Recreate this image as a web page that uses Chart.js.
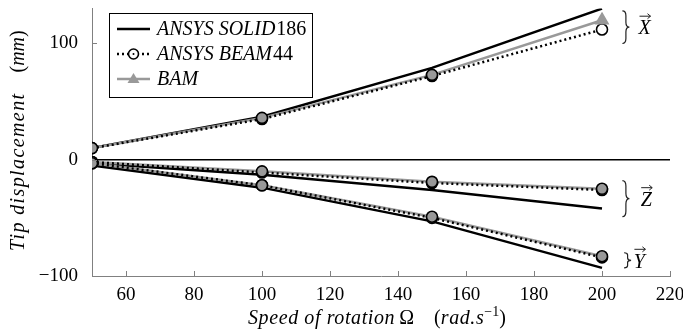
<!DOCTYPE html>
<html>
<head>
<meta charset="utf-8">
<script src="https://cdn.jsdelivr.net/npm/chart.js@4.4.1/dist/chart.umd.min.js"></script>
<style>
  body { margin: 0; background: #fff; }
  canvas { display: block; }
</style>
</head>
<body>
<canvas id="graph" width="683" height="335"></canvas>
<script>
// speeds of rotation (rad/s)
const speeds = [50, 100, 150, 200];

// tip displacement (mm)
const solidX = [10, 37, 79, 130];
const solidY = [-5, -24, -53, -93];
const solidZ = [-3, -13, -26, -42];

const beamX = [10, 35, 72, 112];
const beamY = [-3, -22, -50, -84];
const beamZ = [-2, -11, -20, -26];

const bamX = [10, 36, 73, 120];
const bamY = [-3, -22, -49, -83];
const bamZ = [-2, -10, -19, -25];

const xTicks = [60, 80, 100, 120, 140, 160, 180, 200, 220];
const yTicks = [-100, 0, 100];

const FONT = "'Liberation Serif', 'DejaVu Serif', serif";
const GREY = "#999999";

function pts(vals) {
    return vals.map((v, i) => ({ x: speeds[i], y: v }));
}

var datasets = [];

// zero line
datasets.push({ data: [{ x: 50, y: 0 }, { x: 220, y: 0 }], borderColor: "#000", borderWidth: 1.5, pointRadius: 0, order: 10 });

// solid lines
[solidX, solidY, solidZ].forEach(s => {
    datasets.push({ label: "solid", data: pts(s), borderColor: "#000", borderWidth: 2.5, pointRadius: 0, order: 9 });
});

// BAM line under the dotted BEAM line
[bamX, bamY, bamZ].forEach(s => {
    datasets.push({ label: "bamline", data: pts(s), borderColor: GREY, borderWidth: 2.5, pointRadius: 0, order: 8 });
});

// BEAM44 dotted with white circles
[beamX, beamY, beamZ].forEach(s => {
    datasets.push({
        label: "beam", data: pts(s), borderColor: "#000", borderWidth: 2.5, borderDash: [2, 3],
        pointRadius: 5.5, pointBackgroundColor: "#fff", pointBorderColor: "#000", pointBorderWidth: 1.6, order: 7
    });
});

// BAM markers on top
[bamX, bamY, bamZ].forEach((s, k) => {
    datasets.push({
        label: "bampts", data: pts(s), showLine: false,
        pointStyle: s.map((v, i) => (k == 0 && i == 3) ? "triangle" : "circle"),
        pointRadius: s.map((v, i) => (k == 0 && i == 3) ? 7 : 5.5),
        pointBackgroundColor: GREY,
        pointBorderColor: s.map((v, i) => (k == 0 && i == 3) ? GREY : "#000"),
        pointBorderWidth: 1.6, order: 6
    });
});

// braces + vector labels on the right
const notes = [
    { name: "X", x: 206, y1: 128, y2: 100, lx: 212.5 },
    { name: "Z", x: 206, y1: -18, y2: -49, lx: 213 },
    { name: "Y", x: 206.5, y1: -80, y2: -93, lx: 211 }
];

function brace(ctx, x, y1, y2, w) {
    var h = y2 - y1, m = (y1 + y2) / 2, c = Math.min(6, h * 0.15);
    ctx.beginPath();
    ctx.moveTo(x, y1);
    ctx.quadraticCurveTo(x + w / 2, y1, x + w / 2, y1 + c);
    ctx.lineTo(x + w / 2, m - c);
    ctx.quadraticCurveTo(x + w / 2, m, x + w, m);
    ctx.quadraticCurveTo(x + w / 2, m, x + w / 2, m + c);
    ctx.lineTo(x + w / 2, y2 - c);
    ctx.quadraticCurveTo(x + w / 2, y2, x, y2);
    ctx.stroke();
}

// draws pieces of text one after another (italic / upright / superscript)
function runs(ctx, parts, x, y) {
    parts.forEach(p => {
        ctx.font = p.f;
        ctx.letterSpacing = p.ls || "0px";
        ctx.fillText(p.t, x, y + (p.dy || 0));
        x += ctx.measureText(p.t).width + (p.gap || 0);
    });
    ctx.letterSpacing = "0px";
}

const IT = "italic 20px " + FONT;
const UP = "20px " + FONT;

const extras = {
    id: "extras",
    afterDraw(chart) {
        var ctx = chart.ctx, xs = chart.scales.x, ys = chart.scales.y;
        ctx.save();

        // inward ticks
        ctx.strokeStyle = "#808080";
        ctx.lineWidth = 1;
        xTicks.forEach(t => {
            var px = Math.round(xs.getPixelForValue(t)) + 0.5;
            ctx.beginPath(); ctx.moveTo(px, ys.bottom); ctx.lineTo(px, ys.bottom - 5); ctx.stroke();
        });
        yTicks.forEach(t => {
            var py = Math.round(ys.getPixelForValue(t)) + 0.5;
            ctx.beginPath(); ctx.moveTo(xs.left, py); ctx.lineTo(xs.left + 5, py); ctx.stroke();
        });

        // axis titles
        ctx.fillStyle = "#000";
        ctx.textAlign = "left";
        ctx.textBaseline = "alphabetic";
        runs(ctx, [
            { t: "Speed of rotation", f: IT, ls: "0.6px", gap: 4 },
            { t: "Ω", f: UP, gap: 20 },
            { t: "(", f: UP },
            { t: "rad.s", f: IT, ls: "0.6px" },
            { t: "−1", f: "14px " + FONT, dy: -8 },
            { t: ")", f: UP }
        ], 248, 324);

        ctx.save();
        ctx.translate(24, 251);
        ctx.rotate(-Math.PI / 2);
        runs(ctx, [
            { t: "Tip displacement", f: IT, ls: "1.4px", gap: 20 },
            { t: "(", f: UP },
            { t: "mm", f: IT },
            { t: ")", f: UP }
        ], 0, 0);
        ctx.restore();

        // braces
        ctx.strokeStyle = "#222";
        ctx.lineWidth = 1.2;
        ctx.fillStyle = "#000";
        notes.forEach(n => {
            var bx = xs.getPixelForValue(n.x);
            var a = ys.getPixelForValue(n.y1), b = ys.getPixelForValue(n.y2);
            brace(ctx, bx, a, b, 7);
            var lx = xs.getPixelForValue(n.lx), ly = (a + b) / 2;
            ctx.font = IT;
            ctx.textAlign = "center";
            ctx.textBaseline = "middle";
            ctx.fillText(n.name, lx, ly + 2);
            // arrow above the letter
            var ay = ly - 11;
            ctx.lineWidth = 1;
            ctx.beginPath(); ctx.moveTo(lx - 5, ay); ctx.lineTo(lx + 6, ay); ctx.stroke();
            ctx.beginPath(); ctx.moveTo(lx + 6, ay); ctx.lineTo(lx + 3, ay - 2.5);
            ctx.moveTo(lx + 6, ay); ctx.lineTo(lx + 3, ay + 2.5); ctx.stroke();
            ctx.lineWidth = 1.2;
        });

        // legend
        var bx = 109, by = 13, bw = 203, bh = 84;
        ctx.fillStyle = "#fff";
        ctx.fillRect(bx, by, bw, bh);
        ctx.strokeStyle = "#000";
        ctx.lineWidth = 1;
        ctx.strokeRect(bx + 0.5, by + 0.5, bw, bh);
        var rows = [
            { txt: "ANSYS SOLID", num: "186", kind: "solid" },
            { txt: "ANSYS BEAM", num: "44", kind: "beam" },
            { txt: "BAM", num: "", kind: "bam" }
        ];
        rows.forEach((r, i) => {
            var ry = by + 16 + i * 25;
            var x0 = bx + 8, x1 = bx + 41;
            ctx.setLineDash(r.kind == "beam" ? [2, 3] : []);
            ctx.strokeStyle = r.kind == "bam" ? GREY : "#000";
            ctx.lineWidth = 2.5;
            ctx.beginPath(); ctx.moveTo(x0, ry); ctx.lineTo(x1, ry); ctx.stroke();
            ctx.setLineDash([]);
            var mx = (x0 + x1) / 2;
            if (r.kind == "beam") {
                ctx.fillStyle = "#fff"; ctx.strokeStyle = "#000"; ctx.lineWidth = 1.6;
                ctx.beginPath(); ctx.arc(mx, ry, 5, 0, Math.PI * 2); ctx.fill(); ctx.stroke();
                ctx.fillStyle = "#000";
                ctx.beginPath(); ctx.arc(mx, ry, 1, 0, Math.PI * 2); ctx.fill();
            }
            if (r.kind == "bam") {
                ctx.fillStyle = GREY;
                ctx.beginPath(); ctx.moveTo(mx, ry - 6); ctx.lineTo(mx + 6, ry + 4); ctx.lineTo(mx - 6, ry + 4); ctx.closePath(); ctx.fill();
            }
            ctx.fillStyle = "#000";
            ctx.textAlign = "left";
            ctx.textBaseline = "middle";
            runs(ctx, [{ t: r.txt, f: IT, gap: 1 }, { t: r.num, f: UP }], bx + 48, ry + 1);
        });

        ctx.restore();
    }
};

new Chart("graph", {
    type: "line",
    data: { datasets: datasets },
    options: {
        responsive: false,
        animation: false,
        layout: { padding: { top: 2, right: 13, left: 0, bottom: 0 } },
        plugins: { legend: { display: false }, tooltip: { enabled: false } },
        scales: {
            x: {
                type: "linear", min: 50, max: 220,
                afterBuildTicks: s => { s.ticks = xTicks.map(v => ({ value: v })); },
                afterFit: s => { s.height = 59; s.paddingLeft = 0; s.paddingRight = 0; },
                grid: { display: false },
                border: { color: "#808080", width: 1 },
                ticks: { color: "#000", font: { family: FONT, size: 19 }, padding: 0, maxRotation: 0 }
            },
            y: {
                type: "linear", min: -100, max: 130,
                afterBuildTicks: s => { s.ticks = yTicks.map(v => ({ value: v })); },
                afterFit: s => { s.width = 92; s.paddingTop = 0; s.paddingBottom = 0; },
                grid: { display: false },
                border: { color: "#808080", width: 1 },
                ticks: { color: "#000", font: { family: FONT, size: 19 }, padding: 6, callback: v => String(v).replace("-", "−") }
            }
        }
    },
    plugins: [extras]
});
</script>
</body>
</html>
